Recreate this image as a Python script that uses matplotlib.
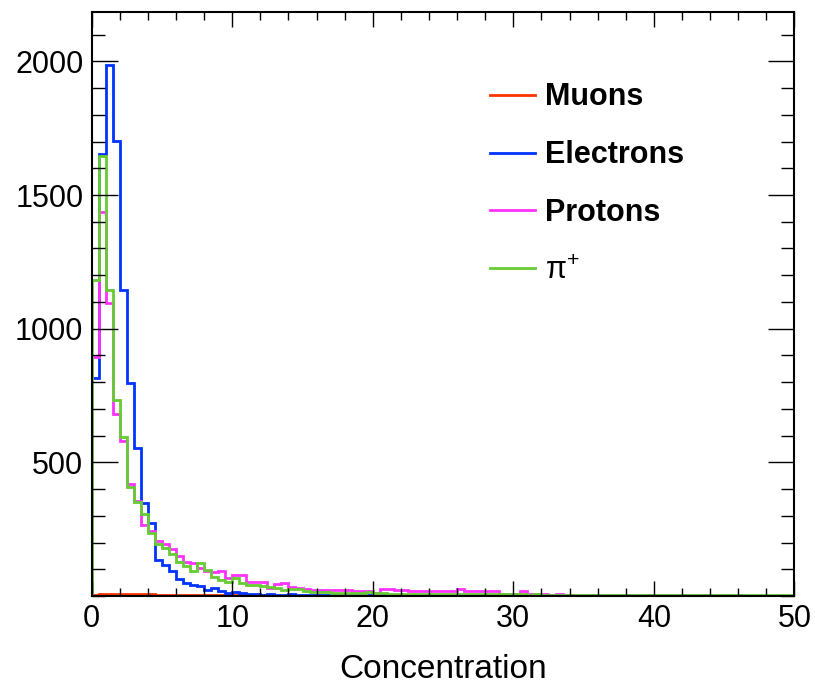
import numpy as np
import matplotlib
matplotlib.use("Agg")
import matplotlib.pyplot as plt
from matplotlib.lines import Line2D
from matplotlib.ticker import MultipleLocator

plt.rcParams['font.family'] = ['Liberation Sans', 'DejaVu Sans']
plt.rcParams['mathtext.fontset'] = 'custom'
plt.rcParams['mathtext.rm'] = 'Liberation Sans'
plt.rcParams['mathtext.it'] = 'Liberation Sans:italic'
plt.rcParams['mathtext.bf'] = 'Liberation Sans:bold'

# 100 bins of width 0.5 between 0 and 50
n_bins = 100
x_lo, x_hi = 0, 50

muons = [5, 7, 8, 8, 7, 7, 6, 6, 6, 5, 5, 5, 5, 4, 4, 4, 4, 3, 3, 3,
         3, 3, 2, 2, 2, 1, 1, 1, 1, 1] + [0] * 70

electrons = [816, 1652, 1987, 1701, 1143, 797, 555, 349, 274, 133,
             116, 94, 62, 49, 41, 36, 22, 30, 20, 13,
             15, 10, 7, 6, 5, 6, 5, 5, 6, 4,
             5, 5, 4, 4, 5, 4, 4, 3, 4, 3,
             3, 2, 2, 3, 2, 2, 2, 2, 2, 2,
             2, 1, 2, 1, 1, 2, 1, 1, 1, 1,
             1, 1, 1, 1, 1, 1, 0, 1, 1, 0,
             1, 0, 0, 1, 0, 0, 1, 0, 0, 0,
             0, 0, 1, 0, 0, 0, 0, 0, 0, 0,
             0, 0, 0, 0, 0, 0, 0, 0, 0, 0]

protons = [893, 1437, 1097, 680, 580, 418, 356, 265, 244, 207,
           196, 176, 150, 128, 122, 104, 95, 91, 92, 68,
           80, 80, 53, 53, 52, 30, 45, 47, 32, 30,
           26, 22, 22, 22, 22, 22, 22, 17, 17, 17,
           10, 25, 25, 22, 22, 18, 18, 18, 19, 19,
           19, 19, 25, 19, 19, 19, 19, 19, 8, 8,
           8, 19, 6, 6, 6, 5, 6, 5, 5, 5,
           4, 4, 4, 4, 3, 4, 3, 3, 3, 3,
           3, 2, 3, 2, 2, 2, 2, 2, 2, 2,
           2, 1, 2, 1, 1, 1, 1, 1, 1, 1]

pions = [1182, 1645, 1145, 732, 594, 408, 350, 308, 237, 193,
         178, 156, 126, 112, 92, 122, 97, 72, 60, 53,
         66, 50, 42, 40, 36, 32, 30, 22, 28, 26,
         18, 16, 15, 14, 13, 12, 12, 11, 11, 16,
         10, 10, 9, 9, 8, 9, 8, 8, 7, 7,
         7, 6, 6, 6, 6, 6, 6, 6, 6, 6,
         6, 6, 5, 6, 5, 5, 5, 5, 5, 5,
         5, 5, 5, 5, 5, 5, 5, 5, 5, 5,
         5, 5, 5, 5, 5, 5, 5, 5, 5, 5,
         5, 5, 5, 5, 5, 5, 5, 5, 5, 5]

labels = ['Muons', 'Electrons', 'Protons', 'π$^{+}$']
colors = ['#ff3300', '#0033ff', '#ff33ff', '#66cc33']

edges = np.linspace(x_lo, x_hi, n_bins + 1)

fig = plt.figure(figsize=(8.15, 6.86), dpi=100)
ax = fig.add_axes([0.1125, 0.1312, 0.8623, 0.8517])

for vals, col in zip([muons, electrons, protons, pions], colors):
    ax.stairs(vals, edges, color=col, linewidth=2.0, baseline=0)

ax.set_xlim(x_lo, x_hi)
ax.set_ylim(0, 1.1 * max(electrons))

ax.set_xticks([0, 10, 20, 30, 40, 50])
ax.xaxis.set_minor_locator(MultipleLocator(2))
ax.set_yticks([500, 1000, 1500, 2000])
ax.yaxis.set_minor_locator(MultipleLocator(100))

ax.tick_params(axis='both', which='both', direction='in', top=True, right=True,
               width=1.0, color='black', labelsize=22)
ax.tick_params(axis='x', which='major', length=11, pad=6)
ax.tick_params(axis='x', which='minor', length=5.8)
ax.tick_params(axis='y', which='major', length=18.5, pad=6)
ax.tick_params(axis='y', which='minor', length=9.3)

for sp in ax.spines.values():
    sp.set_linewidth(1.5)

ax.set_xlabel('Concentration', fontsize=24, labelpad=14)

handles = [Line2D([0], [0], color=c, linewidth=2.0) for c in colors]
leg = ax.legend(handles, labels, loc='upper left', bbox_to_anchor=(0.567, 0.879),
                frameon=False, handlelength=1.47, handletextpad=0.33,
                labelspacing=0.91, borderpad=0, borderaxespad=0,
                prop={'weight': 'bold', 'size': 22})
leg.get_texts()[3].set_fontweight('normal')

fig.savefig('out.png', dpi=100)
